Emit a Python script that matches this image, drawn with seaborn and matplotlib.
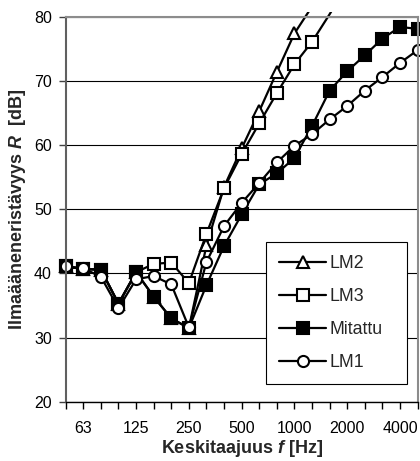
import numpy as np
import matplotlib
matplotlib.use('Agg')
import matplotlib.pyplot as plt
import seaborn as sns
from matplotlib.lines import Line2D
from matplotlib.transforms import Bbox, TransformedBbox

# third-octave centre frequencies (category axis)
freqs = ['50', '63', '80', '100', '125', '160', '200', '250', '315', '400', '500',
         '630', '800', '1000', '1250', '1600', '2000', '2500', '3150', '4000', '5000']

# sound reduction index R [dB]
mitattu = [41.1, 40.7, 40.6, 35.3, 40.2, 36.4, 33.0, 31.5, 38.2, 44.3, 49.2,
           53.9, 55.6, 58.0, 63.0, 68.5, 71.5, 74.0, 76.6, 78.4, 78.1]
lm1 = [41.1, 40.8, 39.5, 34.6, 39.1, 39.6, 38.3, 31.6, 41.8, 47.4, 51.0,
       54.1, 57.3, 59.9, 61.7, 64.0, 66.1, 68.5, 70.6, 72.8, 74.8]
lm2 = [41.1, 40.7, 40.6, 35.3, 40.2, 36.4, 33.0, 31.5, 44.4, 53.5, 59.5,
       65.3, 71.4, 77.4, 81.6, 87.0]
lm3 = [41.1, 40.7, 40.6, 35.3, 40.2, 41.5, 41.7, 38.5, 46.2, 53.3, 58.6,
       63.4, 68.1, 72.6, 76.1, 80.4, 85.0]

sns.set_style('white')
plt.rcParams['font.family'] = ['Liberation Sans', 'DejaVu Sans']
plt.rcParams['mathtext.fontset'] = 'custom'
plt.rcParams['mathtext.it'] = 'Liberation Sans:italic:bold'
plt.rcParams['mathtext.rm'] = 'Liberation Sans:bold'
plt.rcParams['mathtext.bf'] = 'Liberation Sans:bold'

fig = plt.figure(figsize=(4.2, 4.61), dpi=100)
ax = fig.add_axes([0.1564, 0.1282, 0.8381, 0.8356])

# lines may run slightly over the top edge, like in the original
clip = TransformedBbox(Bbox([[-0.03, -0.01], [1.03, 1.013]]), ax.transAxes)

series = [('LM2', lm2, '^', 'white'),
          ('LM3', lm3, 's', 'white'),
          ('Mitattu', mitattu, 's', 'black'),
          ('LM1', lm1, 'o', 'white')]

proxies = []
for name, vals, marker, face in series:
    sns.lineplot(x=np.arange(len(vals)), y=vals, ax=ax, color='black', lw=1.6,
                 marker=marker, markersize=8, markerfacecolor=face,
                 markeredgecolor='black', markeredgewidth=1.5, legend=False)
    line = ax.lines[-1]
    # no markers above the axis max
    line.set_markevery([i for i, v in enumerate(vals) if v <= 80])
    line.set_clip_path(None)
    line.set_clip_box(clip)
    proxies.append(Line2D([], [], color='black', lw=1.6, marker=marker, markersize=8,
                          markerfacecolor=face, markeredgecolor='black',
                          markeredgewidth=1.5, label=name))

ax.set_xlim(0, 20)
ax.set_ylim(20, 80)
ax.set_xticks(range(len(freqs)))
ax.set_xticklabels([f if i % 3 == 1 else '' for i, f in enumerate(freqs)])
ax.set_yticks(range(20, 81, 10))
ax.tick_params(axis='x', bottom=True, direction='out', length=5, width=1,
               color='black', pad=9, labelsize=11.5, labelcolor='black')
ax.tick_params(axis='y', left=True, direction='out', length=5, width=1,
               color='#404040', pad=5, labelsize=11.5, labelcolor='black')

ax.yaxis.grid(True, color='black', lw=0.8)
ax.set_axisbelow(True)
for side in ['top', 'right']:
    ax.spines[side].set_color('#8c8c8c')
    ax.spines[side].set_linewidth(1.5)
ax.spines['left'].set_color('#606060')
ax.spines['left'].set_linewidth(1.5)
ax.spines['bottom'].set_color('black')
ax.spines['bottom'].set_linewidth(1)

ax.set_xlabel('Keskitaajuus $f$ [Hz]', fontsize=13, fontweight='bold', labelpad=1.5)
ax.set_ylabel('Ilmaääneneristävyys $R$  [dB]', fontsize=13, fontweight='bold', labelpad=4)

leg = ax.legend(handles=proxies, loc='upper left', mode='expand',
                bbox_to_anchor=(0.568, 0.057, 0.401, 0.359),
                frameon=True, fancybox=False, edgecolor='black', framealpha=1,
                handlelength=2.65, handletextpad=0.2, labelspacing=0.9,
                borderpad=0.75, borderaxespad=0, fontsize=12.8)
leg.get_frame().set_linewidth(0.8)

fig.savefig('out.png', dpi=100)
